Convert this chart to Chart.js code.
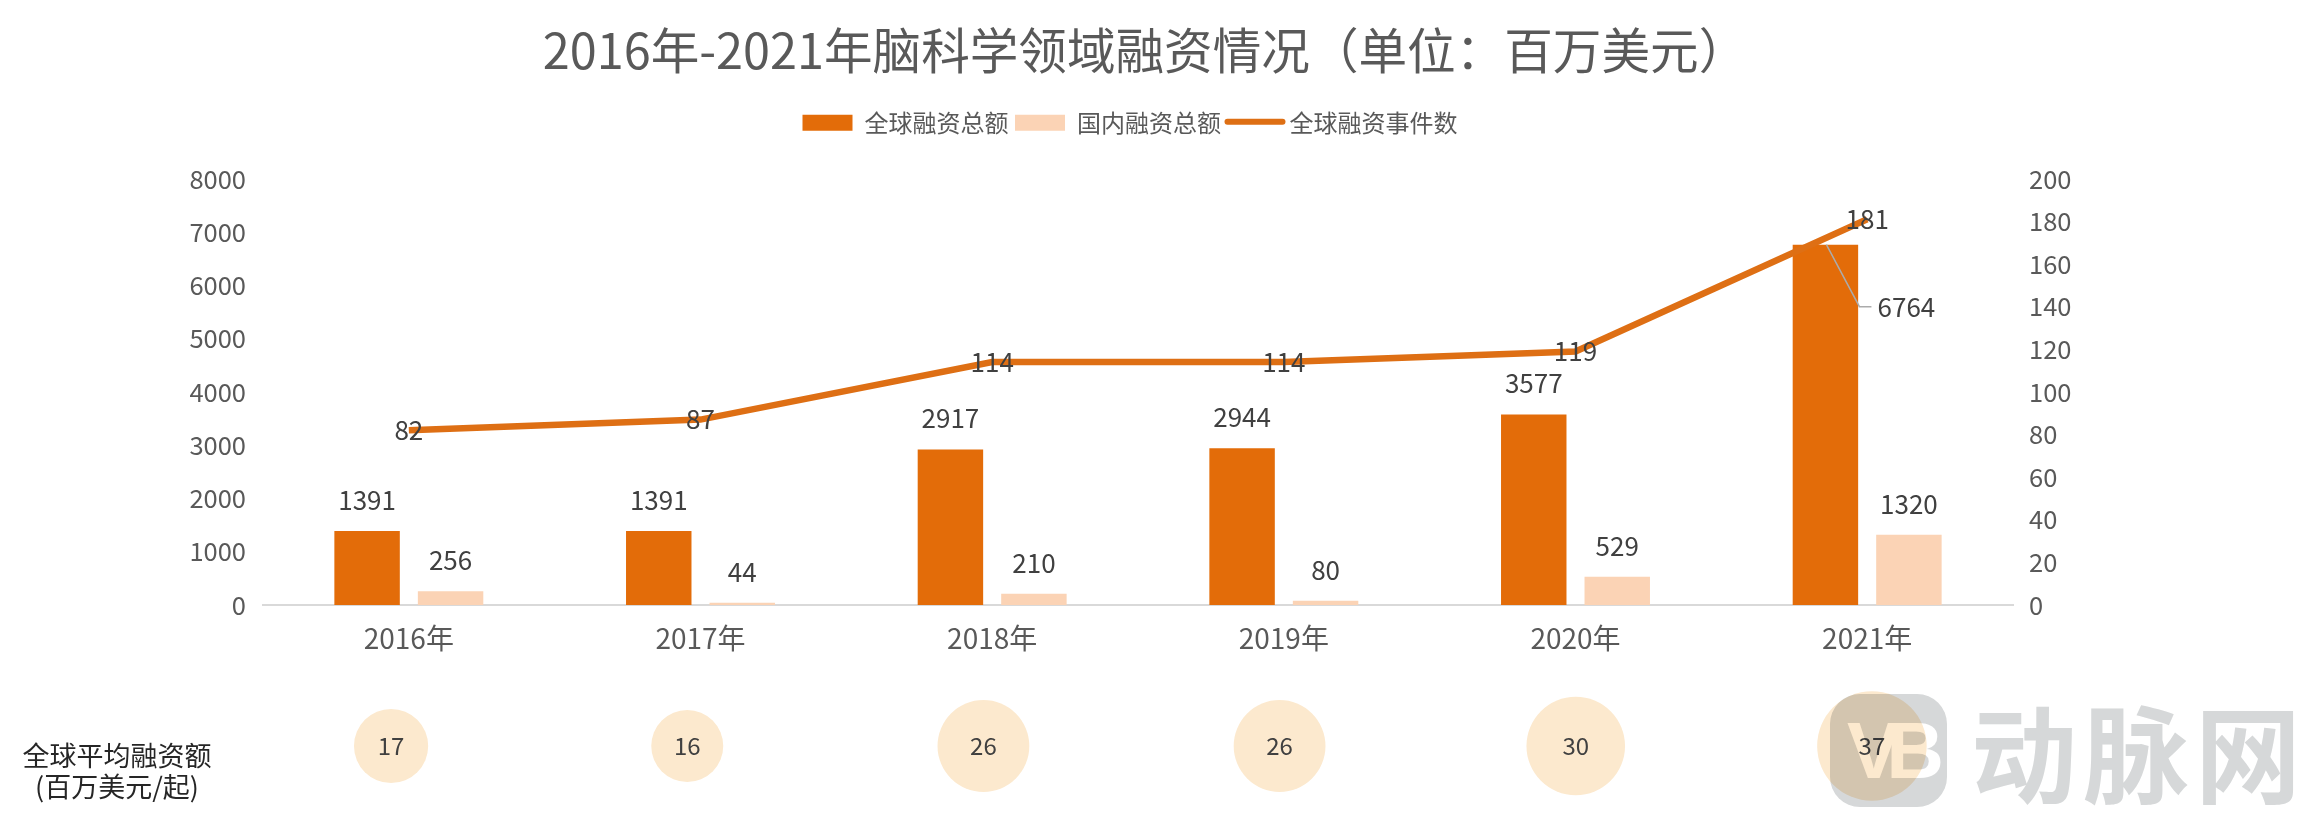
<!DOCTYPE html>
<html>
<head>
<meta charset="utf-8">
<script src="https://cdn.jsdelivr.net/npm/chart.js@4"></script>
<style>
body { margin: 0; background: #fff; width: 2300px; height: 818px; overflow: hidden; position: relative; font-family: 'Noto Sans CJK SC', sans-serif; }
canvas { position: absolute; }
#mainChart { left: 0; top: 0; }
#bubbleChart { left: 243px; top: 680px; }
.caption { position: absolute; left: 0; width: 234px; text-align: center; font-size: 27px; line-height: 31px; top: 739px; color: #262626; }
.logo { position: absolute; left: 1830px; top: 694px; width: 117px; height: 113px; border-radius: 30px; background: #D6D8D9; mix-blend-mode: multiply; color: #fff; font: bold 80px 'Liberation Sans', sans-serif; text-align: center; line-height: 113px; letter-spacing: -14px; }
.mark { position: absolute; left: 1971px; top: 674px; font-size: 106px; line-height: 150px; font-weight: 700; letter-spacing: 6px; color: #D6D8D9; white-space: nowrap; }
</style>
</head>
<body>
<canvas id="mainChart" width="2300" height="818"></canvas>
<canvas id="bubbleChart" width="1777" height="132"></canvas>
<div class="caption">全球平均融资额<br>(百万美元/起)</div>
<div class="logo">VB</div>
<div class="mark">动脉网</div>
<script>
const years = ['2016年', '2017年', '2018年', '2019年', '2020年', '2021年'];
const globalFunding = [1391, 1391, 2917, 2944, 3577, 6764];
const domesticFunding = [256, 44, 210, 80, 529, 1320];
const eventCounts = [82, 87, 114, 114, 119, 181];
const avgFunding = [17, 16, 26, 26, 30, 37];

const fontName = "'Noto Sans CJK SC', sans-serif";
const orange = '#E36C09';
const lightOrange = '#FBD3B5';
const lineOrange = '#DE6F14';

// value labels, leader line and legend line sample
const labelPlugin = {
    id: 'valueLabels',
    beforeInit(chart) {
        // room between legend and plot
        const fit = chart.legend.fit;
        chart.legend.fit = function () {
            fit.call(this);
            this.height += 34;
        };
    },
    afterLayout(chart) {
        // title sits a bit right of the legend centre
        chart.titleBlock.left += 30;
    },
    afterDraw(chart) {
        const ctx = chart.ctx;
        ctx.save();
        ctx.font = '26px ' + fontName;
        ctx.fillStyle = '#404040';
        ctx.textAlign = 'center';
        ctx.textBaseline = 'middle';

        [0, 1].forEach(i => {
            chart.getDatasetMeta(i).data.forEach((bar, index) => {
                const value = chart.data.datasets[i].data[index];
                if (value === 6764) {
                    ctx.strokeStyle = '#ababab';
                    ctx.lineWidth = 1.5;
                    ctx.beginPath();
                    ctx.moveTo(bar.x + 1, bar.y);
                    ctx.lineTo(bar.x + 34, bar.y + 62);
                    ctx.lineTo(bar.x + 46, bar.y + 62);
                    ctx.stroke();
                    ctx.fillText(value, bar.x + 81, bar.y + 62);
                } else {
                    ctx.fillText(value, bar.x, bar.y - 31);
                }
            });
        });

        chart.getDatasetMeta(2).data.forEach((point, index) => {
            ctx.fillText(eventCounts[index], point.x, point.y);
        });

        const box = chart.legend.legendHitBoxes[2];
        ctx.strokeStyle = lineOrange;
        ctx.lineWidth = 6;
        ctx.lineCap = 'round';
        ctx.beginPath();
        ctx.moveTo(box.left, box.top + box.height / 2 - 1);
        ctx.lineTo(box.left + 55, box.top + box.height / 2 - 1);
        ctx.stroke();
        ctx.restore();
    }
};

new Chart(document.getElementById('mainChart'), {
    type: 'bar',
    data: {
        labels: years,
        datasets: [
            { label: '全球融资总额', data: globalFunding, backgroundColor: orange, yAxisID: 'y', order: 1 },
            { label: '国内融资总额', data: domesticFunding, backgroundColor: lightOrange, yAxisID: 'y', order: 1 },
            { label: '全球融资事件数', type: 'line', data: eventCounts, borderColor: lineOrange, backgroundColor: 'rgba(0,0,0,0)', borderWidth: 6.5, pointRadius: 0, tension: 0, yAxisID: 'y1', order: 0 }
        ]
    },
    options: {
        responsive: false,
        animation: false,
        devicePixelRatio: 1,
        categoryPercentage: 0.5725,
        barPercentage: 0.784,
        layout: { padding: { left: 0, right: 40, top: 0, bottom: 0 } },
        plugins: {
            tooltip: { enabled: false },
            title: {
                display: true,
                text: '2016年-2021年脑科学领域融资情况（单位：百万美元）',
                color: '#595959',
                font: { family: fontName, size: 48.6, weight: '400' },
                padding: { top: 21, bottom: 25 }
            },
            legend: {
                position: 'top',
                labels: {
                    boxWidth: 50,
                    boxHeight: 16,
                    padding: 6.5,
                    color: '#595959',
                    font: { family: fontName, size: 24, weight: '400' },
                    sort: (a, b) => a.datasetIndex - b.datasetIndex,
                    generateLabels(chart) {
                        return Chart.defaults.plugins.legend.labels.generateLabels(chart).map(item => {
                            item.lineWidth = 0;
                            return item;
                        });
                    }
                }
            }
        },
        scales: {
            x: {
                grid: { display: false },
                border: { color: '#D9D9D9', width: 2 },
                ticks: { color: '#595959', font: { family: fontName, size: 28, weight: '400' }, padding: 9, maxRotation: 0 },
                afterFit(axis) { axis.height = 213; }
            },
            y: {
                position: 'left',
                min: 0,
                max: 8000,
                grid: { display: false },
                border: { display: false },
                ticks: { stepSize: 1000, callback: v => v, color: '#595959', font: { family: fontName, size: 25.5, weight: '400' }, padding: 9 },
                afterFit(axis) { axis.width = 263; }
            },
            y1: {
                position: 'right',
                min: 0,
                max: 200,
                grid: { display: false },
                border: { display: false },
                ticks: { stepSize: 20, callback: v => v, color: '#595959', font: { family: fontName, size: 25.5, weight: '400' }, padding: 8 },
                afterFit(axis) { axis.width = 247; }
            }
        }
    },
    plugins: [labelPlugin]
});

// bottom row, bubble area follows the value
const bubbleLabels = {
    id: 'bubbleLabels',
    afterDraw(chart) {
        const ctx = chart.ctx;
        ctx.save();
        ctx.font = '24px ' + fontName;
        ctx.fillStyle = '#404040';
        ctx.textAlign = 'center';
        ctx.textBaseline = 'middle';
        chart.getDatasetMeta(0).data.forEach((point, index) => {
            ctx.fillText(avgFunding[index], point.x, point.y);
        });
        ctx.restore();
    }
};

new Chart(document.getElementById('bubbleChart'), {
    type: 'bubble',
    data: {
        labels: years,
        datasets: [{
            label: '全球平均融资额',
            data: avgFunding.map((v, i) => ({ x: years[i], y: 0, r: Math.sqrt(v) * 9 })),
            backgroundColor: '#FCE9CE',
            borderWidth: 0,
            clip: false
        }]
    },
    options: {
        responsive: false,
        animation: false,
        devicePixelRatio: 1,
        layout: { autoPadding: false },
        plugins: { legend: { display: false }, tooltip: { enabled: false } },
        scales: {
            x: { type: 'category', offset: true, display: false },
            y: { min: -1, max: 1, display: false }
        }
    },
    plugins: [bubbleLabels]
});
</script>
</body>
</html>
